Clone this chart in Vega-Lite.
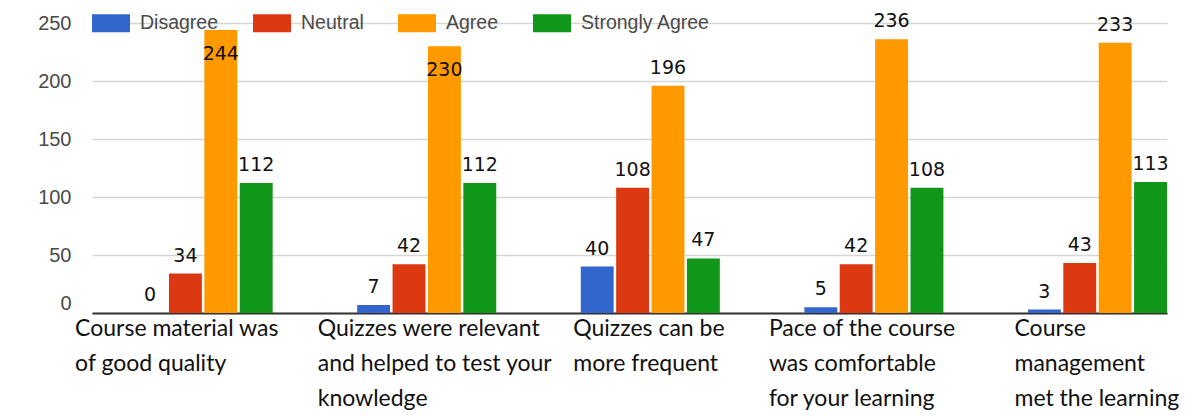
{
  "$schema": "https://vega.github.io/schema/vega-lite/v6.json",
  "autosize": {"type": "none"},
  "padding": {"left": 92, "top": 23, "right": 35, "bottom": 103},
  "width": 1075,
  "height": 290,
  "background": "white",
  "config": {"view": {"stroke": null}},
  "data": {"values": [
    {"q": "Course material was|of good  quality", "r": "Disagree", "v": 0},
    {"q": "Course material was|of good  quality", "r": "Neutral", "v": 34},
    {"q": "Course material was|of good  quality", "r": "Agree", "v": 244},
    {"q": "Course material was|of good  quality", "r": "Strongly Agree", "v": 112},
    {"q": "Quizzes were relevant|and helped to test your|knowledge", "r": "Disagree", "v": 7},
    {"q": "Quizzes were relevant|and helped to test your|knowledge", "r": "Neutral", "v": 42},
    {"q": "Quizzes were relevant|and helped to test your|knowledge", "r": "Agree", "v": 230},
    {"q": "Quizzes were relevant|and helped to test your|knowledge", "r": "Strongly Agree", "v": 112},
    {"q": "Quizzes can be|more frequent", "r": "Disagree", "v": 40},
    {"q": "Quizzes can be|more frequent", "r": "Neutral", "v": 108},
    {"q": "Quizzes can be|more frequent", "r": "Agree", "v": 196},
    {"q": "Quizzes can be|more frequent", "r": "Strongly Agree", "v": 47},
    {"q": "Pace of the course|was comfortable|for your learning", "r": "Disagree", "v": 5},
    {"q": "Pace of the course|was comfortable|for your learning", "r": "Neutral", "v": 42},
    {"q": "Pace of the course|was comfortable|for your learning", "r": "Agree", "v": 236},
    {"q": "Pace of the course|was comfortable|for your learning", "r": "Strongly Agree", "v": 108},
    {"q": "Course|management|met the learning", "r": "Disagree", "v": 3},
    {"q": "Course|management|met the learning", "r": "Neutral", "v": 43},
    {"q": "Course|management|met the learning", "r": "Agree", "v": 233},
    {"q": "Course|management|met the learning", "r": "Strongly Agree", "v": 113}
  ]},
  "encoding": {
    "x": {
      "field": "q", "type": "nominal", "sort": null,
      "scale": {"paddingInner": 0.378, "paddingOuter": 0.093, "align": 1},
      "axis": {
        "title": null, "ticks": false, "domain": true, "domainColor": "#333333", "domainWidth": 2,
        "labelAngle": 0, "labelExpr": "split(datum.value, '|')",
        "labelFont": "Lato", "labelFontSize": 23, "labelColor": "#111111",
        "labelLineHeight": 35, "labelBaseline": "top", "labelPadding": 4,
        "labelAlign": "left", "labelOverlap": false, "labelBound": false, "labelLimit": 0,
        "labelOffset": {"condition": [
          {"test": "indexof(datum.value, 'Course material') == 0", "value": -128},
          {"test": "indexof(datum.value, 'Quizzes were') == 0", "value": -109},
          {"test": "indexof(datum.value, 'Quizzes can') == 0", "value": -77},
          {"test": "indexof(datum.value, 'Pace') == 0", "value": -105}
        ], "value": -83}
      }
    },
    "xOffset": {
      "field": "r", "type": "nominal",
      "sort": ["Disagree", "Neutral", "Agree", "Strongly Agree"],
      "scale": {"paddingInner": 0.07, "paddingOuter": 0}
    },
    "y": {
      "field": "v", "type": "quantitative",
      "scale": {"domain": [0, 250], "nice": false, "zero": true},
      "axis": {
        "title": null, "domain": false, "ticks": false, "grid": true,
        "gridColor": "#d6d6d6", "gridWidth": 1.5,
        "values": [0, 50, 100, 150, 200, 250],
        "labelFont": "Liberation Sans", "labelFontSize": 20, "labelColor": "#4a4a4a",
        "labelPadding": 21,
        "labelBaseline": {"condition": {"test": "datum.value == 0", "value": "bottom"}, "value": "middle"}
      }
    }
  },
  "layer": [
    {
      "mark": {"type": "bar"},
      "encoding": {
        "color": {
          "field": "r", "type": "nominal",
          "sort": ["Disagree", "Neutral", "Agree", "Strongly Agree"],
          "scale": {"domain": ["Disagree", "Neutral", "Agree", "Strongly Agree"], "range": ["#3366cc", "#dc3912", "#ff9900", "#109618"]},
          "legend": {
            "title": null, "orient": "none", "legendX": 0, "legendY": -19,
            "direction": "horizontal", "columns": 4, "padding": 0,
            "symbolType": "M-1,-0.47H1V0.47H-1Z", "symbolSize": 1444,
            "symbolStrokeWidth": 0, "symbolOpacity": 1,
            "labelFont": "Liberation Sans", "labelFontSize": 19.5, "labelColor": "#4a4a4a",
            "labelOffset": 10, "columnPadding": 34
          }
        }
      }
    },
    {
      "transform": [{"filter": "!(datum.r == 'Agree' && (indexof(datum.q, 'Course material') == 0 || indexof(datum.q, 'Quizzes were') == 0))"}],
      "mark": {"type": "text", "baseline": "middle", "align": "center", "dy": -18, "font": "DejaVu Sans", "fontSize": 19, "color": "#111111"},
      "encoding": {"text": {"field": "v", "type": "quantitative"}}
    },
    {
      "transform": [{"filter": "datum.r == 'Agree' && (indexof(datum.q, 'Course material') == 0 || indexof(datum.q, 'Quizzes were') == 0)"}],
      "mark": {"type": "text", "baseline": "middle", "align": "center", "dy": 24, "font": "DejaVu Sans", "fontSize": 19, "color": "#111111"},
      "encoding": {"text": {"field": "v", "type": "quantitative"}}
    }
  ]
}
